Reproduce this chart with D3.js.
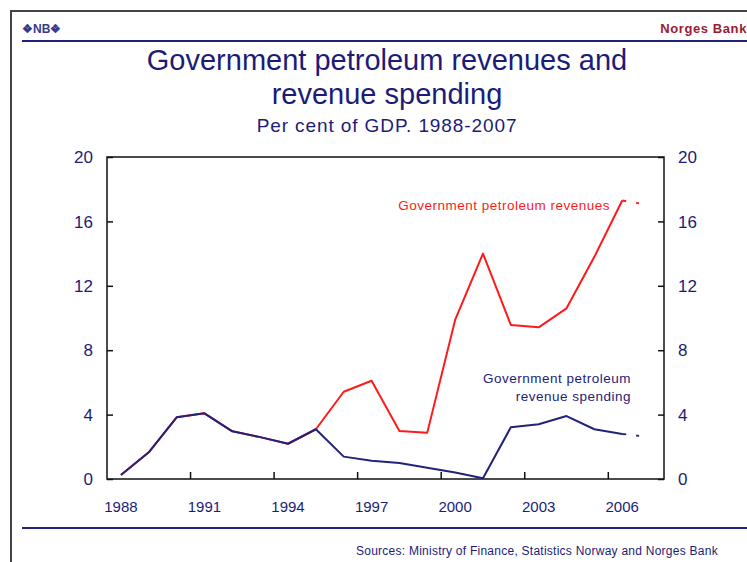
<!DOCTYPE html>
<html>
<head>
<meta charset="utf-8">
<script src="https://cdn.jsdelivr.net/npm/d3@7"></script>
<style>
  body { margin: 0; background: #fff; }
  svg { display: block; font-family: "Liberation Sans", Arial, sans-serif; }
</style>
</head>
<body>
<script>
// --- data (per cent of GDP) ---
const years = d3.range(1988, 2008);
const revenues = [0.25, 1.66, 3.83, 4.08, 2.96, 2.6, 2.19, 3.09, 5.42, 6.1,
                  2.98, 2.88, 9.88, 14.0, 9.57, 9.42, 10.6, 13.8, 17.3, 17.0];
const spending = [0.25, 1.66, 3.83, 4.08, 2.96, 2.6, 2.19, 3.09, 1.39, 1.14,
                  1.0, 0.7, 0.4, 0.05, 3.21, 3.4, 3.91, 3.09, 2.8, 2.6];
const yTicks = [0, 4, 8, 12, 16, 20];
const xLabelYears = [1988, 1991, 1994, 1997, 2000, 2003, 2006];
const xTickYears = [1991, 1994, 1997, 2000, 2003, 2006];
const projectedFrom = 2006; // last year drawn dashed

const W = 747, H = 562;
const navy = "#22227a", red = "#ff1a1a", textNavy = "#1c1c78";

const svg = d3.select("body").append("svg")
  .attr("width", W).attr("height", H);

// outer frame (left + top)
svg.append("path")
  .attr("d", `M11,${H} L11,11 L${W},11`)
  .attr("fill", "none").attr("stroke", "#444").attr("stroke-width", 2);

// header
svg.append("text").attr("x", 22).attr("y", 33)
  .attr("font-size", 12).attr("font-weight", "bold").attr("fill", "#3a3a8a")
  .text("\u2756NB\u2756");
svg.append("text").attr("x", 747).attr("y", 33).attr("text-anchor", "end")
  .attr("font-size", 13).attr("font-weight", "bold").attr("fill", "#9b1b30")
  .attr("letter-spacing", 0.6)
  .text("Norges Bank");
svg.append("line").attr("x1", 22).attr("x2", W).attr("y1", 41).attr("y2", 41)
  .attr("stroke", navy).attr("stroke-width", 2);

// titles
const cx = 387;
svg.append("text").attr("x", cx).attr("y", 70).attr("text-anchor", "middle")
  .attr("font-size", 29).attr("fill", textNavy).text("Government petroleum revenues and");
svg.append("text").attr("x", cx).attr("y", 104).attr("text-anchor", "middle")
  .attr("font-size", 29).attr("fill", textNavy).text("revenue spending");
svg.append("text").attr("x", cx).attr("y", 132).attr("text-anchor", "middle")
  .attr("font-size", 19).attr("letter-spacing", 0.9).attr("fill", textNavy)
  .text("Per cent of GDP. 1988-2007");

// scales
const pLeft = 107, pRight = 664, pTop = 157, pBottom = 479;
const x = d3.scaleBand().domain(years).range([pLeft, pRight]).padding(0);
const cxOf = yr => x(yr) + x.bandwidth() / 2;
const y = d3.scaleLinear().domain([0, 20]).range([pBottom, pTop]);

// frame of plot
svg.append("rect").attr("x", pLeft).attr("y", pTop)
  .attr("width", pRight - pLeft).attr("height", pBottom - pTop)
  .attr("fill", "none").attr("stroke", "#111").attr("stroke-width", 1.5);

// y axes (ticks pointing inward)
const yl = svg.append("g").attr("transform", `translate(${pLeft},0)`)
  .call(d3.axisRight(y).tickValues(yTicks).tickSize(6).tickFormat(""));
yl.select(".domain").remove();
yl.selectAll("line").attr("stroke", "#111").attr("stroke-width", 1.5);
const yr = svg.append("g").attr("transform", `translate(${pRight},0)`)
  .call(d3.axisLeft(y).tickValues(yTicks).tickSize(6).tickFormat(""));
yr.select(".domain").remove();
yr.selectAll("line").attr("stroke", "#111").attr("stroke-width", 1.5);

svg.selectAll(".ylabL").data(yTicks).enter().append("text")
  .attr("x", 93).attr("y", d => y(d)).attr("dy", "0.36em")
  .attr("text-anchor", "end").attr("font-size", 17).attr("fill", textNavy)
  .text(d => d);
svg.selectAll(".ylabR").data(yTicks).enter().append("text")
  .attr("x", 678).attr("y", d => y(d)).attr("dy", "0.36em")
  .attr("font-size", 17).attr("fill", textNavy)
  .text(d => d);

// x ticks at band boundaries
svg.selectAll(".xtick").data(xTickYears).enter().append("line")
  .attr("x1", d => x(d)).attr("x2", d => x(d))
  .attr("y1", pBottom).attr("y2", pBottom - 7)
  .attr("stroke", "#111").attr("stroke-width", 1.5);
svg.selectAll(".xlab").data(xLabelYears).enter().append("text")
  .attr("x", d => cxOf(d)).attr("y", 512).attr("text-anchor", "middle")
  .attr("font-size", 15).attr("fill", textNavy).text(d => d);

// lines
const solidPts = (vals) => years.map((yr, i) => [yr, vals[i]]).filter(d => d[0] <= projectedFrom);
const dashPts = (vals) => years.map((yr, i) => [yr, vals[i]]).filter(d => d[0] >= projectedFrom);
const line = d3.line().x(d => cxOf(d[0])).y(d => y(d[1]));

[[revenues, red], [spending, navy]].forEach(([vals, col]) => {
  svg.append("path").datum(solidPts(vals)).attr("d", line)
    .attr("fill", "none").attr("stroke", col).attr("stroke-width", 2)
    .attr("stroke-linejoin", "round");
  svg.append("path").datum(dashPts(vals)).attr("d", line)
    .attr("fill", "none").attr("stroke", col).attr("stroke-width", 2)
    .attr("stroke-dasharray", "4,10,3,100");
});

// series labels
svg.append("text").attr("x", 610).attr("y", 210).attr("text-anchor", "end")
  .attr("font-size", 13.5).attr("letter-spacing", 0.5).attr("fill", red)
  .text("Government petroleum revenues");
svg.append("text").attr("x", 631).attr("y", 383).attr("text-anchor", "end")
  .attr("font-size", 13.5).attr("letter-spacing", 0.5).attr("fill", navy)
  .text("Government petroleum");
svg.append("text").attr("x", 631).attr("y", 401).attr("text-anchor", "end")
  .attr("font-size", 13.5).attr("letter-spacing", 0.5).attr("fill", navy)
  .text("revenue spending");

// footer
svg.append("line").attr("x1", 22).attr("x2", W).attr("y1", 528).attr("y2", 528)
  .attr("stroke", navy).attr("stroke-width", 2);
svg.append("text").attr("x", 356).attr("y", 555)
  .attr("font-size", 12).attr("letter-spacing", 0.25).attr("fill", textNavy)
  .text("Sources: Ministry of Finance, Statistics Norway and Norges Bank");
</script>
</body>
</html>
